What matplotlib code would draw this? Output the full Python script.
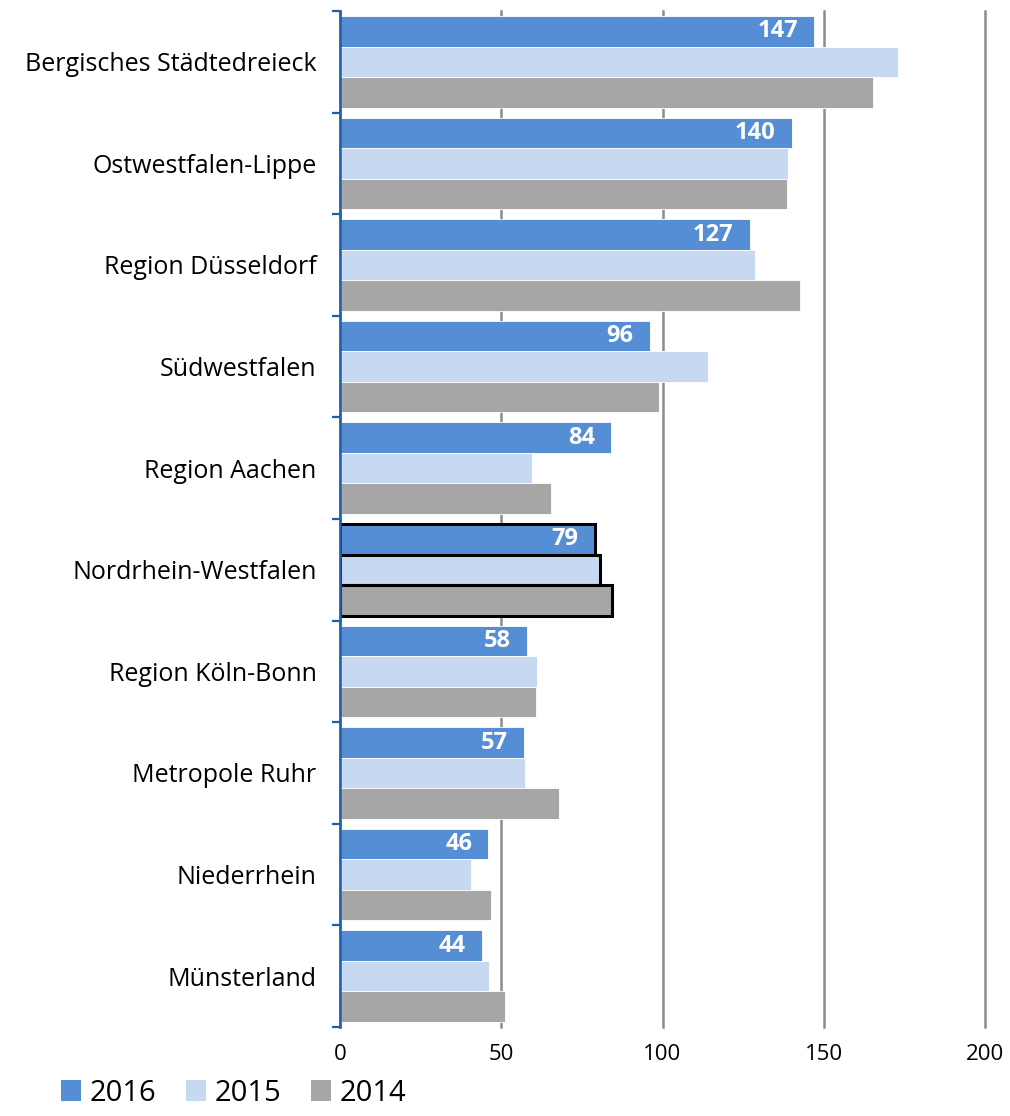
import numpy as np
import matplotlib.pyplot as plt
from matplotlib.patches import Patch

# Regions, top to bottom
regions = ['Bergisches Städtedreieck', 'Ostwestfalen-Lippe', 'Region Düsseldorf',
           'Südwestfalen', 'Region Aachen', 'Nordrhein-Westfalen', 'Region Köln-Bonn',
           'Metropole Ruhr', 'Niederrhein', 'Münsterland']
v2016 = [147, 140, 127, 96, 84, 79, 58, 57, 46, 44]
v2015 = [173.0, 138.9, 128.7, 114.1, 59.5, 80.6, 61.1, 57.4, 40.6, 46.2]
v2014 = [165.3, 138.6, 142.6, 98.9, 65.4, 84.3, 60.8, 67.9, 46.8, 51.2]
years = ['2016', '2015', '2014']
colors = ['#558ed5', '#c6d9f1', '#a6a6a6']
highlight = 'Nordrhein-Westfalen'

plt.rcParams['font.family'] = ['Open Sans', 'DejaVu Sans']

fig = plt.figure(figsize=(10.1, 11.16), dpi=100)
ax = fig.add_axes([340 / 1010, 1 - 1027 / 1116, 645 / 1010, 1016 / 1116])

y = np.arange(len(regions))
h = 0.3
for k, (vals, col) in enumerate(zip([v2016, v2015, v2014], colors)):
    pos = y - h + k * h
    for i, v in enumerate(vals):
        if regions[i] == highlight:
            ax.barh(pos[i], v, height=h, color=col, edgecolor='black', linewidth=2.2, zorder=3)
        else:
            ax.barh(pos[i], v, height=h, color=col, edgecolor='white', linewidth=0.6, zorder=3)
        if k == 0:
            ax.text(v - 5, pos[i], f'{v:g}', ha='right', va='center', color='white',
                    fontsize=17, fontweight='bold', zorder=4)

ax.set_xlim(0, 200)
ax.set_ylim(len(regions) - 0.5, -0.5)
ax.set_xticks([0, 50, 100, 150, 200])
ax.tick_params(axis='x', length=0, labelsize=16, pad=12)
ax.xaxis.grid(True, color='#8c8c8c', linewidth=1.8, zorder=0)
ax.set_axisbelow(True)
for gl in ax.get_xgridlines():
    gl.set_clip_on(False)

ax.set_yticks(y)
ax.set_yticklabels(regions, fontsize=18)
ax.set_yticks(np.arange(-0.5, len(regions), 1), minor=True)
ax.tick_params(axis='y', which='major', length=0, pad=17)
ax.tick_params(axis='y', which='minor', length=6, width=1.6, color='#1f5fa8', direction='out')

for s in ['top', 'right', 'bottom']:
    ax.spines[s].set_visible(False)
ax.spines['left'].set_color('#1f5fa8')
ax.spines['left'].set_linewidth(1.8)
ax.spines['left'].set_zorder(5)

handles = [Patch(facecolor=c, edgecolor='none') for c in colors]
fig.legend(handles, years, loc='lower left', bbox_to_anchor=(0.034, -0.016), ncol=3,
           frameon=False, fontsize=21, handlelength=0.7, handleheight=0.7,
           handletextpad=0.3, columnspacing=1.0)

fig.savefig('out.png', dpi=100)
